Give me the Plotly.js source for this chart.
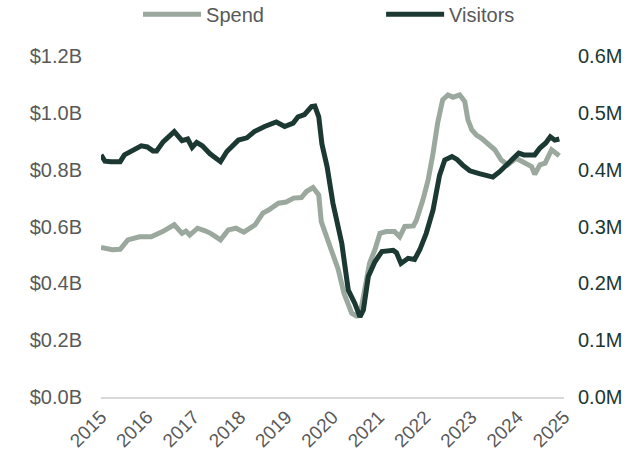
<!DOCTYPE html>
<html>
<head>
<meta charset="utf-8">
<script src="https://cdn.plot.ly/plotly-3.0.1.min.js"></script>
<style>
  html, body { margin: 0; padding: 0; background: #fff; }
  #chart { width: 641px; height: 457px; }
</style>
</head>
<body>
<div id="chart"></div>
<script>
// Spend, in billions of dollars (left axis)
const spendDates = [
  '2015-01-01', '2015-04-01', '2015-06-01', '2015-08-01', '2015-11-01',
  '2016-02-01', '2016-05-01', '2016-06-15', '2016-08-01', '2016-10-01', '2016-11-01', '2016-12-01',
  '2017-02-01', '2017-04-01', '2017-05-15', '2017-08-01', '2017-10-01', '2017-12-01',
  '2018-02-01', '2018-05-01', '2018-07-01', '2018-08-15', '2018-11-01',
  '2019-01-01', '2019-03-01', '2019-05-01', '2019-06-10', '2019-08-01', '2019-09-15', '2019-10-05', '2019-11-15',
  '2020-01-01', '2020-02-15', '2020-04-01', '2020-06-01', '2020-07-10', '2020-08-05', '2020-09-10', '2020-10-20', '2020-12-01',
  '2021-01-10', '2021-03-01', '2021-05-05', '2021-06-15', '2021-07-25', '2021-10-01', '2021-10-25', '2021-12-15',
  '2022-01-25', '2022-03-05', '2022-04-10', '2022-05-20', '2022-07-01', '2022-08-10', '2022-10-01', '2022-11-10', '2022-12-05',
  '2023-01-05', '2023-02-10', '2023-03-20', '2023-05-10', '2023-07-05', '2023-08-25', '2023-10-15', '2023-12-20',
  '2024-02-25', '2024-04-20', '2024-05-15', '2024-06-25', '2024-08-05', '2024-09-25', '2024-11-25'
];
const spendValues = [
  0.526, 0.518, 0.520, 0.553, 0.564,
  0.564, 0.582, 0.592, 0.606, 0.576, 0.584, 0.570,
  0.594, 0.585, 0.576, 0.553, 0.588, 0.594,
  0.580, 0.606, 0.647, 0.658, 0.682,
  0.686, 0.700, 0.702, 0.723, 0.737, 0.711, 0.617, 0.559,
  0.506, 0.450, 0.365, 0.295, 0.285, 0.288, 0.365, 0.471, 0.518,
  0.576, 0.582, 0.582, 0.564, 0.600, 0.602, 0.623, 0.694,
  0.764, 0.858, 0.964, 1.046, 1.063, 1.055, 1.063, 1.040, 0.975,
  0.940, 0.922, 0.911, 0.893, 0.870, 0.834, 0.817, 0.840,
  0.823, 0.811, 0.784, 0.817, 0.823, 0.870, 0.849
];

// Visitors, in millions (right axis)
const visitorDates = [
  '2015-01-01', '2015-02-01', '2015-03-20', '2015-06-01', '2015-07-05', '2015-09-01', '2015-11-15',
  '2016-01-01', '2016-02-15', '2016-03-15', '2016-05-05', '2016-08-01', '2016-10-01', '2016-11-15', '2016-12-20',
  '2017-01-25', '2017-03-10', '2017-05-10', '2017-08-01', '2017-09-20', '2017-12-20',
  '2018-02-25', '2018-04-25', '2018-07-15', '2018-10-15', '2018-12-20',
  '2019-02-25', '2019-04-05', '2019-05-25', '2019-07-20', '2019-08-15', '2019-09-15', '2019-10-10', '2019-11-20',
  '2020-01-05', '2020-03-15', '2020-05-05', '2020-06-25', '2020-08-05', '2020-09-01', '2020-10-10', '2020-12-01',
  '2021-01-25', '2021-04-25', '2021-05-20', '2021-06-25', '2021-08-20', '2021-10-10', '2021-11-20',
  '2022-01-10', '2022-03-05', '2022-04-25', '2022-06-05', '2022-08-01', '2022-09-10', '2022-10-25', '2022-12-20',
  '2023-03-05', '2023-05-01', '2023-06-20', '2023-08-10', '2023-10-15',
  '2024-01-10', '2024-02-20', '2024-05-15', '2024-06-25', '2024-08-10', '2024-09-15', '2024-10-20', '2024-11-25'
];
const visitorValues = [
  0.426, 0.415, 0.414, 0.414, 0.426, 0.432, 0.442,
  0.440, 0.433, 0.433, 0.449, 0.467, 0.451, 0.454, 0.439,
  0.448, 0.442, 0.428, 0.414, 0.432, 0.452,
  0.456, 0.467, 0.476, 0.484, 0.476,
  0.482, 0.493, 0.497, 0.511, 0.512, 0.493, 0.445, 0.405,
  0.341, 0.270, 0.188, 0.165, 0.141, 0.153, 0.212, 0.238,
  0.256, 0.258, 0.254, 0.235, 0.244, 0.242, 0.259,
  0.288, 0.329, 0.390, 0.417, 0.423, 0.418, 0.408, 0.398,
  0.393, 0.389, 0.387, 0.396, 0.409,
  0.429, 0.426, 0.426, 0.438, 0.447, 0.458, 0.452, 0.454
];

const spendTicks = [0, 0.2, 0.4, 0.6, 0.8, 1.0, 1.2];
const spendTickLabels = ['$0.0B', '$0.2B', '$0.4B', '$0.6B', '$0.8B', '$1.0B', '$1.2B'];
const visitorTicks = [0, 0.1, 0.2, 0.3, 0.4, 0.5, 0.6];
const visitorTickLabels = ['0.0M', '0.1M', '0.2M', '0.3M', '0.4M', '0.5M', '0.6M'];

const spendColor = '#9ba89e';
const visitorColor = '#1b3832';
const greyText = '#595959';

const data = [
  {
    x: spendDates,
    y: spendValues,
    name: 'Spend',
    type: 'scatter',
    mode: 'lines',
    line: {color: spendColor, width: 5},
    yaxis: 'y',
    legend: 'legend'
  },
  {
    x: visitorDates,
    y: visitorValues,
    name: 'Visitors',
    type: 'scatter',
    mode: 'lines',
    line: {color: visitorColor, width: 5},
    yaxis: 'y2',
    legend: 'legend2'
  }
];

// one legend per series so each entry can sit where it does in the original
const legendBase = {
  orientation: 'h',
  xanchor: 'left',
  yref: 'container',
  y: 0.969,
  yanchor: 'middle',
  itemwidth: 58,
  font: {size: 20, color: greyText},
  bgcolor: 'rgba(0,0,0,0)'
};

const layout = {
  width: 641,
  height: 457,
  margin: {l: 101, r: 77, t: 56, b: 60, autoexpand: false},
  paper_bgcolor: '#ffffff',
  plot_bgcolor: '#ffffff',
  font: {family: 'Liberation Sans, Arial, sans-serif', size: 20, color: greyText},
  showlegend: true,
  legend: Object.assign({}, legendBase, {x: 0.08}),
  legend2: Object.assign({}, legendBase, {x: 0.605}),
  xaxis: {
    type: 'date',
    range: ['2015-01-01', '2025-01-01'],
    tickmode: 'linear',
    tick0: '2015-01-01',
    dtick: 'M12',
    tickformat: '%Y',
    tickangle: -45,
    tickfont: {size: 19, color: greyText},
    showgrid: false,
    zeroline: false,
    showline: true,
    linecolor: '#d9d9d9',
    linewidth: 1.5,
    ticks: ''
  },
  yaxis: {
    range: [0, 1.2],
    tickvals: spendTicks,
    ticktext: spendTickLabels,
    tickfont: {size: 20, color: greyText},
    ticklabelstandoff: 18,
    showgrid: false,
    zeroline: false,
    showline: false,
    ticks: ''
  },
  yaxis2: {
    range: [0, 0.6],
    overlaying: 'y',
    side: 'right',
    tickvals: visitorTicks,
    ticktext: visitorTickLabels,
    tickfont: {size: 20, color: visitorColor},
    ticklabelstandoff: 13,
    showgrid: false,
    zeroline: false,
    showline: false,
    ticks: ''
  }
};

Plotly.newPlot('chart', data, layout, {displayModeBar: false, staticPlot: true});
</script>
</body>
</html>
